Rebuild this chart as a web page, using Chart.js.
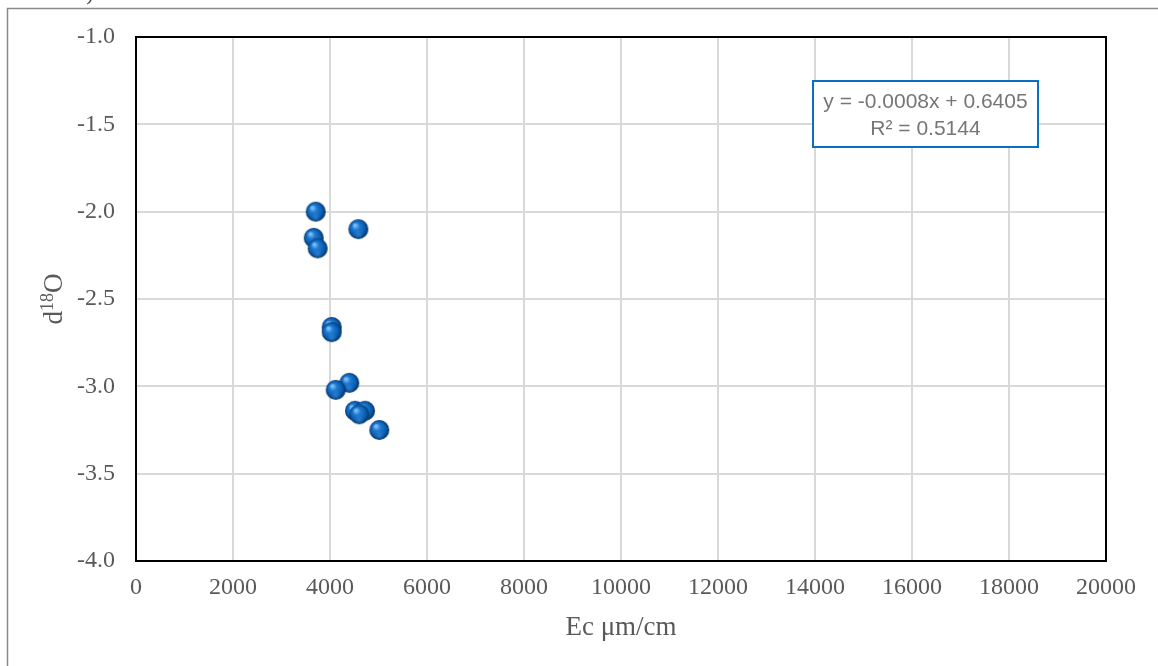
<!DOCTYPE html>
<html>
<head>
<meta charset="utf-8">
<title>d18O vs Ec</title>
<script src="https://cdn.jsdelivr.net/npm/chart.js@4.4.1/dist/chart.umd.min.js"></script>
<style>
  html, body { margin: 0; padding: 0; background: #ffffff; }
  #wrap { width: 1158px; height: 666px; position: relative; }
</style>
</head>
<body>
<div id="wrap"><canvas id="chart" width="1158" height="666"></canvas></div>
<script>
// Electrical conductivity (µm/cm) and d18O of each sample
const ecValues   = [3705, 3664, 3746, 4584, 4035, 4035, 4398, 4118, 4515, 4722, 4604, 5016];
const d18OValues = [-2.00, -2.15, -2.21, -2.10, -2.66, -2.69, -2.98, -3.02, -3.14, -3.14, -3.16, -3.25];

const xTicks = [0, 2000, 4000, 6000, 8000, 10000, 12000, 14000, 16000, 18000, 20000];
const yTicks = [-4.0, -3.5, -3.0, -2.5, -2.0, -1.5, -1.0];

const trendLines = ['y = -0.0008x + 0.6405', 'R\u00B2 = 0.5144'];

const serif = '"Liberation Serif", "Times New Roman", serif';
const textGray = '#595959';

// shaded sphere used as the point marker
function makeSphere(r) {
  const s = Math.ceil(r * 2 + 2);
  const c = document.createElement('canvas');
  c.width = s; c.height = s;
  const g = c.getContext('2d');
  const cx = s / 2, cy = s / 2;
  const grad = g.createRadialGradient(cx - r * 0.35, cy - r * 0.4, r * 0.1, cx, cy, r);
  grad.addColorStop(0, '#7dbdf5');
  grad.addColorStop(0.3, '#1f7ad3');
  grad.addColorStop(0.72, '#0a5cb0');
  grad.addColorStop(1, '#05325f');
  g.beginPath();
  g.arc(cx, cy, r, 0, Math.PI * 2);
  g.fillStyle = grad;
  g.fill();
  // soft reflected light along the lower rim
  const rim = g.createRadialGradient(cx, cy + r * 0.55, 0, cx, cy + r * 0.55, r * 0.5);
  rim.addColorStop(0, 'rgba(70,150,225,0.5)');
  rim.addColorStop(1, 'rgba(70,150,225,0)');
  g.beginPath();
  g.arc(cx, cy, r, 0, Math.PI * 2);
  g.fillStyle = rim;
  g.fill();
  return c;
}
const sphere = makeSphere(10);

const frame = {
  id: 'frame',
  beforeDraw(chart) {
    const ctx = chart.ctx;
    ctx.save();
    ctx.fillStyle = '#ffffff';
    ctx.fillRect(0, 0, chart.width, chart.height);
    ctx.strokeStyle = '#8a8a8a';
    ctx.lineWidth = 1.5;
    ctx.strokeRect(7.5, 8.5, 1300, 800);
    // tail of the panel label above the frame
    ctx.fillStyle = '#404040';
    ctx.font = '22px ' + serif;
    ctx.textAlign = 'center';
    ctx.textBaseline = 'alphabetic';
    ctx.fillText(')', 90, 0);
    ctx.restore();
  },
  afterDatasetsDraw(chart) {
    const ctx = chart.ctx;
    const a = chart.chartArea;
    ctx.save();
    // plot border
    ctx.strokeStyle = '#000000';
    ctx.lineWidth = 2;
    ctx.strokeRect(a.left, a.top, a.right - a.left, a.bottom - a.top);

    // axis titles
    ctx.fillStyle = textGray;
    ctx.font = '27px ' + serif;
    ctx.textAlign = 'center';
    ctx.textBaseline = 'alphabetic';
    ctx.fillText('Ec \u03BCm/cm', (a.left + a.right) / 2, 635);

    ctx.translate(62, (a.top + a.bottom) / 2);
    ctx.rotate(-Math.PI / 2);
    const big = '27px ' + serif, small = '18px ' + serif;
    ctx.font = big; const wd = ctx.measureText('d').width, wo = ctx.measureText('O').width;
    ctx.font = small; const ws = ctx.measureText('18').width;
    let x = -(wd + ws + wo) / 2;
    ctx.textAlign = 'left';
    ctx.font = big; ctx.fillText('d', x, 0); x += wd;
    ctx.font = small; ctx.fillText('18', x, -9); x += ws;
    ctx.font = big; ctx.fillText('O', x, 0);
    ctx.restore();

    // trendline equation box
    ctx.save();
    const bx = a.left + 677, by = a.top + 44, bw = 225, bh = 66;
    ctx.fillStyle = '#ffffff';
    ctx.fillRect(bx, by, bw, bh);
    ctx.strokeStyle = '#0a6fc2';
    ctx.lineWidth = 2;
    ctx.strokeRect(bx, by, bw, bh);
    ctx.fillStyle = '#767676';
    ctx.font = '21px "Liberation Sans", Arial, sans-serif';
    ctx.textAlign = 'center';
    ctx.textBaseline = 'middle';
    ctx.fillText(trendLines[0], bx + bw / 2, by + 21);
    ctx.fillText(trendLines[1], bx + bw / 2, by + 48);
    ctx.restore();
  }
};

new Chart(document.getElementById('chart'), {
  type: 'scatter',
  data: {
    datasets: [{
      data: ecValues.map((v, i) => ({ x: v, y: d18OValues[i] })),
      pointStyle: sphere,
      pointRadius: 10,
      pointHoverRadius: 10
    }]
  },
  options: {
    responsive: false,
    animation: false,
    events: [],
    layout: { padding: { left: 0, top: 37, right: 52, bottom: 0 } },
    plugins: { legend: { display: false }, tooltip: { enabled: false } },
    scales: {
      x: {
        type: 'linear',
        min: 0, max: 20000,
        afterBuildTicks: s => { s.ticks = xTicks.map(v => ({ value: v })); },
        afterFit: s => { s.height = 105; },
        grid: { color: '#d9d9d9', lineWidth: 2, drawTicks: false },
        border: { display: false },
        ticks: {
          color: textGray, padding: 12, maxRotation: 0,
          font: { family: serif, size: 24 },
          callback: v => String(v)
        }
      },
      y: {
        type: 'linear',
        min: -4, max: -1,
        afterBuildTicks: s => { s.ticks = yTicks.map(v => ({ value: v })); },
        afterFit: s => { s.width = 136; },
        grid: { color: '#d9d9d9', lineWidth: 2, drawTicks: false },
        border: { display: false },
        ticks: {
          color: textGray, padding: 21,
          font: { family: serif, size: 24 },
          callback: v => Number(v).toFixed(1)
        }
      }
    }
  },
  plugins: [frame]
});
</script>
</body>
</html>
